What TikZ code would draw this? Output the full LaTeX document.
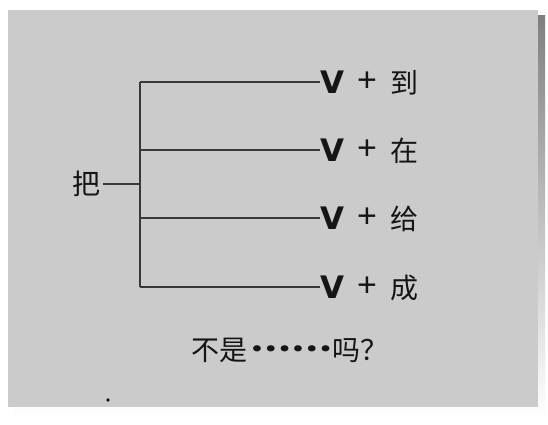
\documentclass[tikz,border=0pt]{standalone}
\usepackage{fontspec}
\newfontfamily\cjk{Noto Sans CJK SC}
\newfontfamily\vfont{DejaVu Sans}
\newfontfamily\plusfont{Liberation Sans}
\definecolor{panel}{HTML}{CBCBCB}
\definecolor{shade}{HTML}{7A7A7A}
\definecolor{ink}{HTML}{151515}
\tikzset{
  branch/.style={draw=ink!85, line width=1.4pt},
  vlabel/.style={inner sep=0pt, font=\vfont\bfseries\fontsize{31}{31}\selectfont, text=ink},
  pluslabel/.style={inner sep=0pt, font=\plusfont\fontsize{34}{34}\selectfont, text=ink},
  cjklabel/.style={inner sep=0pt, font=\cjk\fontsize{28}{28}\selectfont, text=ink},
}
\begin{document}
\begin{tikzpicture}[x=1pt,y=-1pt]
\useasboundingbox (0,0) rectangle (548,425);
\fill[white] (0,0) rectangle (548,425);
% shadow and panel
\fill[shade] (14,16) rectangle (545,417);
\fill[panel] (8,10) rectangle (538,407);
% root
\node[cjklabel] (ba) at (86,184) {把};
\coordinate (J) at (140,184);
\coordinate (top) at (140,82);
\coordinate (bot) at (140,287);
% rows
\foreach \i/\y/\c in {1/82/到,2/150/在,3/218/给,4/287/成}{
  \node[vlabel]    (v\i) at (332,\y) {V};
  \node[pluslabel] (p\i) at (367,\y) {+};
  \node[cjklabel]  (c\i) at (404,\y+1) {\c};
  \coordinate (b\i) at (140,\y);
}
\draw[branch] ([xshift=3pt]ba.east |- J) -- (J);
\draw[branch] (top) -- (bot);
\foreach \i in {1,...,4}{
  \draw[branch] (b\i) -- (v\i.west);
}
% bottom question
\node[cjklabel] (q) at (290,350) {不是\hspace{3pt}\raisebox{0.32em}{\scalebox{1.3}[1]{\bfseries ……}}\hspace{1pt}吗？};
% speck
\fill[ink] (108,400) circle (1.8pt);
\end{tikzpicture}
\end{document}
